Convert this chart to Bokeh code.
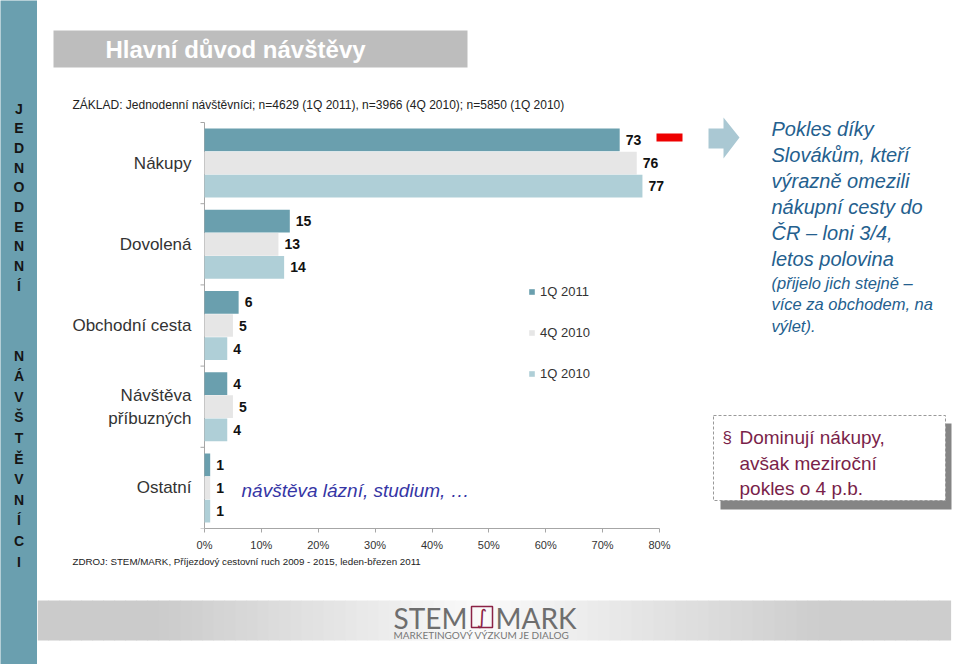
from bokeh.plotting import figure
from bokeh.layouts import row, column
from bokeh.models import (ColumnDataSource, Range1d, LabelSet, Legend, LegendItem, FixedTicker)
from bokeh.core.properties import value
from bokeh.transform import dodge
from bokeh.embed import file_html
from bokeh.resources import INLINE

# ---------------- data ----------------
categories = ["Nákupy", "Dovolená", "Obchodní cesta", "Návštěva příbuzných", "Ostatní"]
category_labels = ["Nákupy", "Dovolená", "Obchodní cesta", "Návštěva\npříbuzných", "Ostatní"]
series_names = ["1Q 2011", "4Q 2010", "1Q 2010"]
values_1q2011 = [73, 15, 6, 4, 1]
values_4q2010 = [76, 13, 5, 5, 1]
values_1q2010 = [77, 14, 4, 4, 1]
x_ticks = [0, 10, 20, 30, 40, 50, 60, 70, 80]
x_tick_labels = ["0%", "10%", "20%", "30%", "40%", "50%", "60%", "70%", "80%"]

title_text = "Hlavní důvod návštěvy"
subtitle_text = "ZÁKLAD: Jednodenní návštěvníci; n=4629 (1Q 2011), n=3966 (4Q 2010); n=5850 (1Q 2010)"
source_text = "ZDROJ: STEM/MARK, Příjezdový cestovní ruch 2009 - 2015, leden-březen 2011"
side_word1 = "JEDNODENNÍ"
side_word2 = "NÁVŠTĚVNÍCI"
note_text = "návštěva lázní, studium, …"
comment_big = ["Pokles díky", "Slovákům, kteří", "výrazně omezili", "nákupní cesty do",
               "ČR – loni 3/4,", "letos polovina"]
comment_small = ["(přijelo jich stejně –", "více za obchodem, na", "výlet)."]
box_lines = ["Dominují nákupy,", "avšak meziroční", "pokles o 4 p.b."]

# ---------------- styles / layout constants ----------------
C1, C2, C3 = "#6A9FAE", "#E6E6E6", "#AFCFD7"
TEAL = "#6A9FAF"
FONT = "Liberation Sans"

PAGE_W, PAGE_H = 958, 664
STRIP_W = 37
ZERO_X = 204          # page x of 0 %
FRAME_B = 528         # page y of x axis
MAIN_BOTTOM = 554     # page y where bottom figure starts
PX_PER_PCT = 455 / 80
GROUP_PX = 81.2
LAST_CENTER_Y = FRAME_B - GROUP_PX / 2   # page y of the lowest category centre


def clean(f, bg="white"):
    f.xgrid.visible = False
    f.ygrid.visible = False
    f.outline_line_color = None
    f.background_fill_color = bg
    f.border_fill_color = bg


def deco_fig(x0, x1, y0, y1, bg="white"):
    f = figure(width=x1 - x0, height=y1 - y0, x_range=Range1d(x0, x1), y_range=Range1d(y1, y0),
               output_backend="svg", toolbar_location=None, min_border=0, title=None,
               x_axis_location=None, y_axis_location=None)
    clean(f, bg)
    return f


def txt(f, x, y, texts, size, color="#222222", style="normal", align="left", font=FONT, **kw):
    f.text(x=x, y=y, text=texts, text_font=value(font), text_font_size=size,
           text_font_style=style, text_color=color, text_align=align, text_baseline="middle", **kw)


# ---------------- left strip ----------------
strip = deco_fig(0, STRIP_W, 0, PAGE_H, bg=TEAL)
ys1 = [108 + i * 19.7 for i in range(len(side_word1))]
ys2 = [355 + i * 20.6 for i in range(len(side_word2))]
txt(strip, [18.5] * (len(ys1) + len(ys2)), ys1 + ys2, list(side_word1) + list(side_word2),
    "14px", color="#151515", style="bold", align="center")

# ---------------- main chart (frame spans page x 37..958, y 0..528) ----------------
main_w = PAGE_W - STRIP_W
n = len(categories)
ypos = [n - 1 - i for i in range(n)]

p = figure(width=main_w, height=MAIN_BOTTOM,
           x_range=Range1d((STRIP_W - ZERO_X) / PX_PER_PCT, (PAGE_W - ZERO_X) / PX_PER_PCT),
           y_range=Range1d(-(FRAME_B - LAST_CENTER_Y) / GROUP_PX, LAST_CENTER_Y / GROUP_PX),
           output_backend="svg", toolbar_location=None, title=None,
           min_border_left=0, min_border_right=0, min_border_top=0,
           min_border_bottom=MAIN_BOTTOM - FRAME_B, y_axis_location=None)
clean(p)
# page-pixel ranges for decorations
p.extra_x_ranges = {"px": Range1d(STRIP_W, PAGE_W)}
p.extra_y_ranges = {"px": Range1d(FRAME_B, 0)}
PX = dict(x_range_name="px", y_range_name="px")

xa = p.xaxis[0]
xa.ticker = FixedTicker(ticks=x_ticks)
xa.bounds = (x_ticks[0], x_ticks[-1])
xa.major_label_overrides = {t: l for t, l in zip(x_ticks, x_tick_labels)}
xa.axis_line_color = "#A6A6A6"
xa.major_tick_line_color = "#A6A6A6"
xa.major_tick_out = 4
xa.major_tick_in = 0
xa.minor_tick_line_color = None
xa.major_label_text_font = FONT
xa.major_label_text_font_size = "11px"
xa.major_label_text_color = "#333333"
xa.major_label_standoff = 6

# category axis: line, boundary ticks and labels through the data scale
p.segment(x0=[0], y0=[-0.5], x1=[0], y1=[n - 0.5], line_color="#A6A6A6", line_width=1)
bounds_y = [v - 0.5 for v in range(n + 1)]
p.segment(x0=[-4 / PX_PER_PCT] * len(bounds_y), y0=bounds_y, x1=[0] * len(bounds_y), y1=bounds_y,
          line_color="#A6A6A6", line_width=1)
p.text(x=[0] * n, y=ypos, text=category_labels, x_offset=-13, text_align="right",
       text_baseline="middle", text_font=value(FONT), text_font_size="17px",
       text_color="#333333", text_line_height=1.2)

src = ColumnDataSource(dict(
    pos=ypos,
    v1=values_1q2011, v2=values_4q2010, v3=values_1q2010,
    t1=[str(v) for v in values_1q2011],
    t2=[str(v) for v in values_4q2010],
    t3=[str(v) for v in values_1q2010],
))
OFF = 0.285
BH = 0.28
renderers = []
for col, tcol, off, color in [("v1", "t1", OFF, C1), ("v2", "t2", 0.0, C2), ("v3", "t3", -OFF, C3)]:
    r = p.hbar(y=dodge("pos", off), left=0, right=col, height=BH,
               fill_color=color, line_color=None, source=src)
    renderers.append(r)
    p.add_layout(LabelSet(x=col, y=dodge("pos", off), text=tcol, source=src,
                          x_offset=6, text_baseline="middle", text_align="left",
                          text_font=value(FONT), text_font_size="14px", text_font_style="bold",
                          text_color="#111111"))

legend = Legend(items=[LegendItem(label=nm, renderers=[r]) for nm, r in zip(series_names, renderers)],
                location=(528 - STRIP_W, FRAME_B - 381), orientation="vertical",
                glyph_width=7, glyph_height=7, label_height=14, label_standoff=5,
                spacing=26, padding=0, margin=0,
                border_line_color=None, background_fill_alpha=0,
                label_text_font=FONT, label_text_font_size="13px", label_text_color="#333333")
p.add_layout(legend)

# title band + base text
p.quad(left=[53], right=[467], top=[30], bottom=[67], fill_color="#BDBDBD", line_color=None, **PX)
txt(p, [105], [49], [title_text], "24px", color="white", style="bold", **PX)
txt(p, [72], [104], [subtitle_text], "12px", color="#222222", **PX)

# note inside chart
txt(p, [241], [490], [note_text], "19px", color="#3535A5", style="italic", **PX)

# red marker
p.quad(left=[656], right=[682], top=[133], bottom=[141], fill_color="#EE0000", line_color=None, **PX)

# arrow
p.patch(x=[708, 723, 723, 739, 723, 723, 708], y=[128, 128, 117, 137, 158, 148, 148],
        fill_color="#AAC8D3", line_color=None, **PX)

# right comment
txt(p, [771] * len(comment_big), [128 + i * 26 for i in range(len(comment_big))], comment_big,
    "20px", color="#24608E", style="italic", **PX)
txt(p, [771] * len(comment_small), [282 + i * 21.5 for i in range(len(comment_small))], comment_small,
    "16.5px", color="#24608E", style="italic", **PX)

# boxed statement with shadow
p.quad(left=[720], right=[951], top=[423], bottom=[509], fill_color="#858585", line_color=None, **PX)
p.quad(left=[713], right=[945], top=[415], bottom=[500], fill_color="white", line_color="#999999",
       line_dash="3 2", line_width=1, **PX)
txt(p, [722], [437], ["§"], "17px", color="#7A1F4A", **PX)
txt(p, [739] * len(box_lines), [437 + i * 25.5 for i in range(len(box_lines))], box_lines,
    "19px", color="#7A1F4A", **PX)

# ---------------- bottom (source + logo band) ----------------
bottom = deco_fig(STRIP_W, PAGE_W, MAIN_BOTTOM, PAGE_H)
txt(bottom, [72], [561], [source_text], "9.75px", color="#222222")

xs_band = list(range(STRIP_W, PAGE_W + 1, 11))
lefts, rights, cols = [], [], []
for i in range(len(xs_band) - 1):
    xm = (xs_band[i] + xs_band[i + 1]) / 2
    if xm < 160:
        g = 203
    elif xm < 480:
        g = 203 + (250 - 203) * (xm - 160) / 320
    elif xm < 820:
        g = 250 - (250 - 205) * (xm - 480) / 340
    else:
        g = 205
    g = int(round(g))
    lefts.append(xs_band[i])
    rights.append(xs_band[i + 1] + 0.6)
    cols.append("#%02x%02x%02x" % (g, g, g))
bottom.quad(left=lefts, right=rights, top=[600] * len(lefts), bottom=[640] * len(lefts),
            fill_color=cols, line_color=None)

txt(bottom, [393], [617], ["STEM"], "28px", color="#6E6E6E", font="Lato")
bottom.quad(left=[471], right=[492], top=[606], bottom=[627], fill_alpha=0,
            line_color="#8B2346", line_width=1.5)
txt(bottom, [481.5], [616.5], ["∫"], "20px", color="#8B2346", align="center", font="DejaVu Sans")
txt(bottom, [495], [617], ["MARK"], "28px", color="#6E6E6E", font="Lato")
txt(bottom, [393], [634], ["MARKETINGOVÝ VÝZKUM JE DIALOG"], "10px", color="#777777", font="Lato")

layout = row(strip, column(p, bottom, spacing=0), spacing=0)
open("out.html", "w").write(file_html(layout, INLINE))
